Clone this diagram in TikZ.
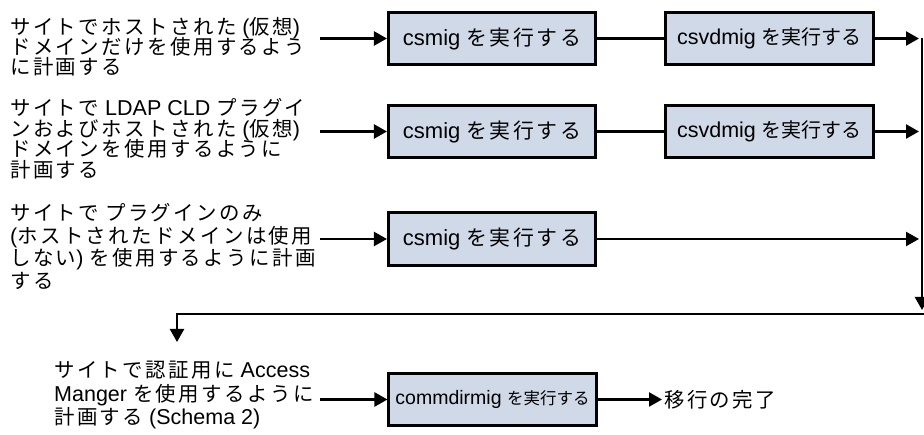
\documentclass[tikz,border=0pt]{standalone}
\usepackage{fontspec}
\setmainfont{Liberation Sans}
\newfontfamily\jp[Scale=0.95,LetterSpace=12]{Noto Sans CJK JP}
\newfontfamily\jpc{Noto Sans CJK JP}
\usetikzlibrary{arrows.meta}
\definecolor{boxfill}{RGB}{208,217,232}
\newcommand\jtxt[1]{{\jp #1}}
\newcommand\jtxc[1]{{\jpc #1}}
\newcommand\lblfont[1]{\fontsize{21.5}{#1}\selectfont\lineskiplimit=-30pt\relax}
\begin{document}
\begin{tikzpicture}[x=1pt,y=-1pt,
  lbl/.style={anchor=north west, inner sep=0pt, align=left},
  box/.style={draw, line width=2.6pt, fill=boxfill, minimum width=207.5pt,
    minimum height=52.5pt, inner sep=0pt},
  conn/.style={line width=2.4pt},
  arr/.style={conn, -{Triangle[length=13pt,width=14pt]}}]
\useasboundingbox (0,0) rectangle (924,435);

% row 1
\node[lbl, font=\lblfont{20.3}] (l1) at (10,17) {\jtxt{サイトでホストされた} (\jtxt{仮想})\\\jtxt{ドメインだけを使用するよう}\\\jtxt{に計画する}};
\node[box, font=\fontsize{22}{22}\selectfont] (c1) at (492,38.5) {csmig \jtxt{を実行する}};
\node[box, font=\fontsize{21.5}{22}\selectfont] (v1) at (769.5,38.5) {csvdmig {\fontsize{20}{20}\selectfont\jtxc{を実行する}}};

% row 2
\node[lbl, font=\lblfont{20.7}] (l2) at (10,98) {\jtxt{サイトで} LDAP CLD \jtxt{プラグイ}\\\jtxt{ンおよびホストされた} (\jtxt{仮想})\\\jtxt{ドメインを使用するように}\\\jtxt{計画する}};
\node[box, font=\fontsize{22}{22}\selectfont] (c2) at (492,131.5) {csmig \jtxt{を実行する}};
\node[box, font=\fontsize{21.5}{22}\selectfont] (v2) at (769.5,131.5) {csvdmig {\fontsize{20}{20}\selectfont\jtxc{を実行する}}};

% row 3
\node[lbl, font=\lblfont{22.7}] (l3) at (10,203) {\jtxt{サイトで} \jtxt{プラグインのみ}\\(\jtxt{ホストされたドメインは使用}\\\jtxt{しない}) \jtxt{を使用するように計画}\\\jtxt{する}};
\node[box, font=\fontsize{22}{22}\selectfont] (c3) at (492,239) {csmig \jtxt{を実行する}};

% row 4
\node[lbl, font=\lblfont{23.5}] (l4) at (54,361) {\jtxt{サイトで認証用に} Access\\Manger \jtxt{を使用するように}\\\jtxt{計画する} (Schema 2)};
\node[box, font=\fontsize{19.5}{20}\selectfont] (m) at (492.5,399.5) {commdirmig {\fontsize{16.5}{17}\selectfont\jtxc{を実行する}}};
\node[anchor=west, inner sep=2pt, font=\fontsize{21.5}{21}\selectfont] (done) at (662,399.5) {\jtxt{移行の完了}};

% coordinates
\coordinate (t1) at (919,38.5);
\coordinate (t2) at (919,131.5);
\coordinate (t3) at (919,239);
\coordinate (busTop) at (922,38);
\coordinate (busBot) at (922,310);
\coordinate (busR) at (930,314);
\coordinate (busL) at (177,314);
\coordinate (dn) at (177,342);

% connectors
\draw[arr] ([xshift=-67pt]c1.west) -- (c1.west);
\draw[arr] ([xshift=-67pt]c2.west) -- (c2.west);
\draw[arr] ([xshift=-67pt]c3.west) -- (c3.west);
\draw[arr] ([xshift=-67pt]m.west) -- (m.west);
\draw[conn] (c1) -- (v1);
\draw[conn] (c2) -- (v2);
\draw[arr] (v1) -- (t1);
\draw[arr] (v2) -- (t2);
\draw[arr] (c3) -- (t3);
\draw[arr] (busTop) -- (busBot);
\draw[arr, line join=miter] (busR) -- (busL) -- (dn);
\draw[arr] (m) -- (done);
\end{tikzpicture}
\end{document}
